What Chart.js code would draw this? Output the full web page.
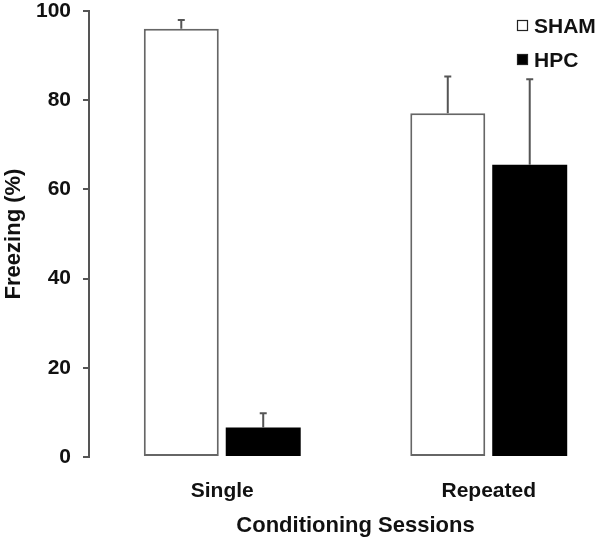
<!DOCTYPE html>
<html>
<head>
<meta charset="utf-8">
<script src="https://cdn.jsdelivr.net/npm/chart.js@4.4.0/dist/chart.umd.min.js"></script>
<style>
  html, body { margin: 0; padding: 0; background: #fff; }
  #wrap { width: 600px; height: 544px; }
</style>
</head>
<body>
<div id="wrap"><canvas id="c" width="600" height="544"></canvas></div>
<script>
const categories = ['Single', 'Repeated'];
const seriesNames = ['SHAM', 'HPC'];
const shamValues = [96.0, 77.1];
const shamErrors = [2.0, 8.2];
const hpcValues = [6.6, 65.5];
const hpcErrors = [3.2, 19.2];
const yTicks = [0, 20, 40, 60, 80, 100];
const yTitle = 'Freezing (%)';
const xTitle = 'Conditioning Sessions';

const FONT = "'Liberation Sans', Arial, sans-serif";
const TEXT = '#111';
const AXIS = '#555';

// the original x axis runs on past the right edge of the picture
const xAxisOverhang = 22;

const extendX = {
  id: 'extendX',
  afterLayout(chart) {
    const s = chart.scales.x;
    s.right = s.right + xAxisOverhang;
    s.width = s.right - s.left;
    s.configure();
  }
};

const errorBars = {
  id: 'errorBars',
  afterDatasetsDraw(chart) {
    const ctx = chart.ctx;
    const ys = chart.scales.y;
    ctx.save();
    ctx.strokeStyle = AXIS;
    ctx.lineWidth = 2;
    chart.data.datasets.forEach((ds, di) => {
      const meta = chart.getDatasetMeta(di);
      meta.data.forEach((el, i) => {
        const v = ds.data[i];
        const e = ds.errors[i];
        const yTop = ys.getPixelForValue(v + e);
        ctx.beginPath();
        ctx.moveTo(el.x, el.y);
        ctx.lineTo(el.x, yTop);
        ctx.moveTo(el.x - 3.5, yTop);
        ctx.lineTo(el.x + 3.5, yTop);
        ctx.stroke();
      });
    });
    ctx.restore();
  }
};

const boxLegend = {
  id: 'boxLegend',
  afterDraw(chart) {
    const ctx = chart.ctx;
    const area = chart.chartArea;
    ctx.save();
    ctx.font = 'bold 21px ' + FONT;
    ctx.textBaseline = 'middle';
    ctx.textAlign = 'left';
    chart.data.datasets.forEach((ds, i) => {
      const bx = chart.width - 83;
      const cy = area.top + 15 + i * 34;
      ctx.fillStyle = ds.backgroundColor;
      ctx.fillRect(bx, cy - 6, 11, 11);
      ctx.strokeStyle = '#222';
      ctx.lineWidth = 1.2;
      ctx.strokeRect(bx + 0.5, cy - 5.5, 10, 10);
      ctx.fillStyle = TEXT;
      ctx.fillText(ds.label, bx + 17, cy + 1);
    });
    ctx.restore();
  }
};

new Chart(document.getElementById('c'), {
  type: 'bar',
  data: {
    labels: categories,
    datasets: [
      {
        label: seriesNames[0],
        data: shamValues,
        errors: shamErrors,
        backgroundColor: '#ffffff',
        borderColor: '#666',
        borderWidth: 2,
        borderSkipped: false
      },
      {
        label: seriesNames[1],
        data: hpcValues,
        errors: hpcErrors,
        backgroundColor: '#000000',
        borderColor: '#000000',
        borderWidth: 0
      }
    ]
  },
  options: {
    responsive: false,
    animation: false,
    events: [],
    layout: { padding: 0 },
    categoryPercentage: 0.615,
    barPercentage: 0.915,
    plugins: {
      legend: { display: false },
      tooltip: { enabled: false }
    },
    scales: {
      x: {
        afterFit(scale) { scale.height = 87; scale.paddingLeft = 0; scale.paddingRight = 0; },
        grid: { display: false, drawTicks: false },
        border: { display: false },
        ticks: {
          autoSkip: false,
          maxRotation: 0,
          padding: 22,
          color: TEXT,
          font: { family: FONT, size: 21, weight: 'bold' }
        },
        title: {
          display: true,
          text: xTitle,
          color: TEXT,
          font: { family: FONT, size: 22, weight: 'bold' },
          padding: { top: 0, bottom: 5 }
        }
      },
      y: {
        min: 0,
        max: 100,
        afterBuildTicks(scale) { scale.ticks = yTicks.map(v => ({ value: v })); },
        afterFit(scale) { scale.width = 89; scale.paddingTop = 11; scale.paddingBottom = 0; },
        grid: {
          drawOnChartArea: false,
          drawTicks: true,
          tickLength: 6,
          color: AXIS,
          lineWidth: 2
        },
        border: { display: true, color: AXIS, width: 2 },
        ticks: {
          padding: 12,
          color: TEXT,
          font: { family: FONT, size: 21, weight: 'bold' }
        },
        title: {
          display: true,
          text: yTitle,
          color: TEXT,
          font: { family: FONT, size: 22, weight: 'bold' },
          padding: { top: 1, bottom: 0 }
        }
      }
    }
  },
  plugins: [extendX, errorBars, boxLegend]
});
</script>
</body>
</html>
